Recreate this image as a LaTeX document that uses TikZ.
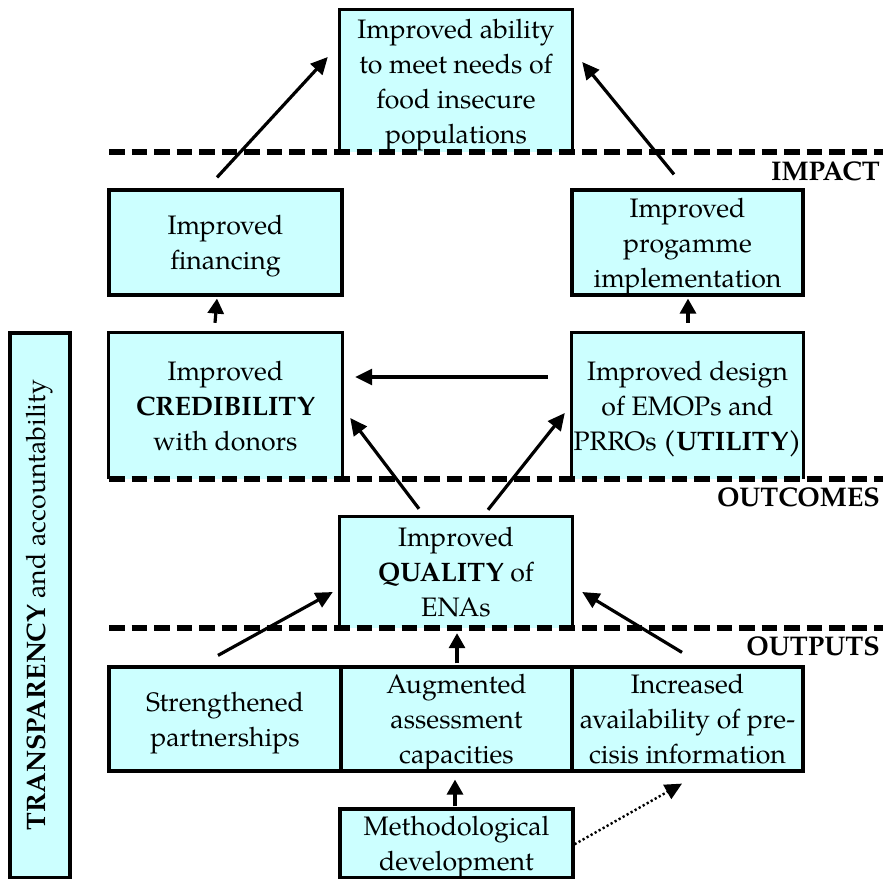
\documentclass[tikz,border=0pt]{standalone}
\usepackage{fontspec}
\setmainfont{texgyrepagella}[Extension=.otf,UprightFont=*-regular,BoldFont=*-bold,ItalicFont=*-italic,BoldItalicFont=*-bolditalic]
\usetikzlibrary{arrows.meta,calc}
\definecolor{boxfill}{HTML}{CCFFFF}
\begin{document}
\begin{tikzpicture}[x=1pt,y=-1pt,
  txt/.style={font=\fontsize{26.7}{35}\selectfont},
  box/.style={txt,fill=boxfill,draw=black,line width=3.2pt,inner sep=0pt,align=center},
  openbox/.style={txt,fill=boxfill,draw=none,inner sep=0pt,align=center},
  border/.style={line width=3.2pt,line join=miter},
  sep/.style={line width=5.5pt,dash pattern=on 15.5pt off 7pt},
  lbl/.style={font=\fontsize{27}{35}\selectfont\bfseries,inner sep=0pt},
  link/.style={line width=3.2pt,-{Triangle[length=17pt,width=16pt]}},
  shortlink/.style={line width=3.2pt,-{Triangle[length=15pt,width=16pt]}},
  dotlink/.style={line width=2.4pt,dash pattern=on 2.2pt off 2.4pt,-{Triangle[length=17pt,width=16pt]}}
]
\useasboundingbox (0,0) rectangle (883,880);

% boxes
\node[openbox,minimum width=232pt,minimum height=142pt] (goal) at (456,81)
  {Improved ability\\to meet needs of\\food insecure\\\smash{populations}};
\node[box,minimum width=233pt,minimum height=105pt] (fin) at (225.5,242.5)
  {Improved\\\smash{financing}};
\node[box,minimum width=231pt,minimum height=105pt] (prog) at (687.5,242.5)
  {Improved\\progamme\\\smash{implementation}};
\node[openbox,minimum width=233pt,minimum height=146pt] (cred) at (225.5,406)
  {Improved\\\textbf{CREDIBILITY}\\with donors};
\node[openbox,minimum width=231pt,minimum height=146pt] (design) at (687.5,406)
  {Improved design\\of EMOPs and\\\smash{PRROs \textbf{(UTILITY)}}};
\node[openbox,minimum width=232pt,minimum height=111pt] (qual) at (456,572.5)
  {Improved\\\textbf{QUALITY} of\\ENAs};
\node[box,minimum width=232pt,minimum height=104pt] (str) at (225,719)
  {Strengthened\\\smash{partnerships}};
\node[box,minimum width=231pt,minimum height=104pt] (aug) at (456.5,719)
  {Augmented\\assessment\\\smash{capacities}};
\node[box,minimum width=231pt,minimum height=104pt] (inc) at (687.5,719)
  {Increased\\availability of pre-\\cisis information};
\node[box,minimum width=233pt,minimum height=68.5pt] (meth) at (456.5,843.25)
  {Methodological\\\smash{development}};
\node[box,minimum width=60pt,minimum height=544.5pt] (trans) at (40,605.25) {};
\node[txt,rotate=90,inner sep=0pt] (transtxt) at (trans.center)
  {\textbf{TRANSPARENCY} and accountability};

% borders of open boxes
\foreach \n in {goal,cred,design,qual}
  \draw[border] (\n.south west) -- (\n.north west) -- (\n.north east) -- (\n.south east);

% separators
\coordinate (s1a) at (109,152); \coordinate (s1b) at (883,152);
\coordinate (s2a) at (109,479); \coordinate (s2b) at (883,479);
\coordinate (s3a) at (109,628); \coordinate (s3b) at (883,628);
\draw[sep] (s1a) -- (s1b);
\draw[sep] (s2a) -- (s2b);
\draw[sep] (s3a) -- (s3b);

% level labels
\node[lbl,anchor=base east] (impact) at (880,180) {IMPACT};
\node[lbl,anchor=base east] (outcomes) at (880,506.5) {OUTCOMES};
\node[lbl,anchor=base east] (outputs) at (880,655) {OUTPUTS};

% connectors
\draw[link] ($(fin.north)+(-8.5,-11)$) -- ($(goal.west)+(-12,-24)$);
\draw[link] ($(prog.north)+(-13.5,-14)$) -- ($(goal.east)+(10,-19)$);
\draw[shortlink] ($(cred.north)+(-10.5,-10)$) -- ($(fin.south)+(-8.5,2)$);
\draw[shortlink] ($(design.north)+(0.5,-10)$) -- ($(prog.south)+(0.5,2)$);
\draw[link] ($(design.west)+(-24,-29)$) -- ($(cred.east)+(13,-29)$);
\draw[link] ($(qual.north)+(-37,-8)$) -- ($(cred.east)+(8,12)$);
\draw[link] ($(qual.north)+(32,-7)$) -- ($(design.west)+(-7,7)$);
\draw[link] ($(str.north)+(-7,-10)$) -- ($(qual.west)+(-7,19.5)$);
\draw[shortlink] ($(aug.north)+(0.5,-2)$) -- ($(qual.south)+(1,5)$);
\draw[link] ($(inc.north)+(-5.5,-13)$) -- ($(qual.east)+(10,19.5)$);
\draw[shortlink] ($(meth.north)+(-1.5,-1)$) -- ($(aug.south)+(-1.5,7)$);
\draw[dotlink] ($(meth.east)+(0,1)$) -- ($(inc.south)+(-5.5,11)$);
\end{tikzpicture}
\end{document}
